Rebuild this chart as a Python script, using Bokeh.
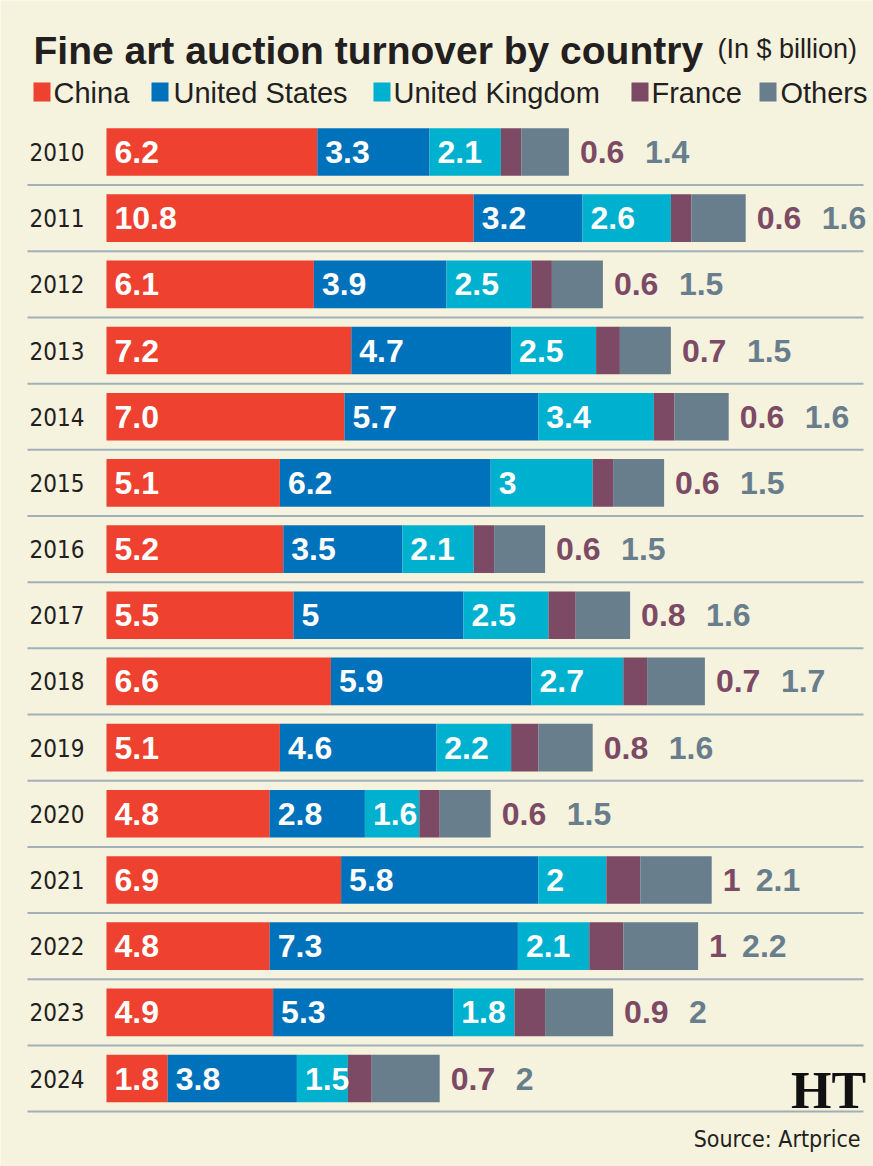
from bokeh.plotting import figure
from bokeh.models import Range1d, ColumnDataSource, Label
from bokeh.embed import file_html
from bokeh.resources import INLINE
from bokeh.core.properties import value
import numpy as np

# ---- data: fine art auction turnover, $ billion ----
years = ["2010", "2011", "2012", "2013", "2014", "2015", "2016", "2017",
         "2018", "2019", "2020", "2021", "2022", "2023", "2024"]
china = [6.2, 10.8, 6.1, 7.2, 7.0, 5.1, 5.2, 5.5, 6.6, 5.1, 4.8, 6.9, 4.8, 4.9, 1.8]
united_states = [3.3, 3.2, 3.9, 4.7, 5.7, 6.2, 3.5, 5, 5.9, 4.6, 2.8, 5.8, 7.3, 5.3, 3.8]
united_kingdom = [2.1, 2.6, 2.5, 2.5, 3.4, 3, 2.1, 2.5, 2.7, 2.2, 1.6, 2, 2.1, 1.8, 1.5]
france = [0.6, 0.6, 0.6, 0.7, 0.6, 0.6, 0.6, 0.8, 0.7, 0.8, 0.6, 1, 1, 0.9, 0.7]
others = [1.4, 1.6, 1.5, 1.5, 1.6, 1.5, 1.5, 1.6, 1.7, 1.6, 1.5, 2.1, 2.2, 2, 2]
series_names = ["China", "United States", "United Kingdom", "France", "Others"]

# ---- style ----
W, H = 873, 1166
BG = "#f5f2de"
INK = "#231f20"
GRID = "#9fb0b8"
COLORS = ["#ee4130", "#0072bb", "#00b0cf", "#7c4a64", "#687e8c"]
SANS = "Liberation Sans"
NARROW = "'DejaVu Sans Condensed', 'Liberation Sans', sans-serif"

# pixel layout of the plotting frame
X0_PX = 106          # where zero sits
PX_PER_UNIT = 34     # pixels per $ billion
ROW0_PX = 151.5      # centre of the first row
ROW_PX = 66.18       # row pitch
BAR_H = 0.72         # bar thickness, in rows


def px_x(px):
    return (px - X0_PX) / PX_PER_UNIT


def px_y(py):
    return (py - ROW0_PX) / ROW_PX


p = figure(
    width=W, height=H,
    x_range=Range1d(px_x(0), px_x(W)),
    y_range=Range1d(px_y(H), px_y(0)),
    output_backend="svg", toolbar_location=None,
    x_axis_location=None, y_axis_location=None,
    min_border=0, outline_line_color=None,
    background_fill_color=BG, border_fill_color=BG,
)
p.grid.visible = False

rows = np.arange(len(years))
keys = ["china", "us", "uk", "france", "others"]
cn = np.array(china, dtype=float)
us = np.array(united_states, dtype=float)
uk = np.array(united_kingdom, dtype=float)
fr = np.array(france, dtype=float)
ot = np.array(others, dtype=float)
total = cn + us + uk + fr + ot

src = ColumnDataSource(dict(row=rows, china=cn, us=us, uk=uk, france=fr, others=ot))

# row separators
p.segment(x0=px_x(27), x1=px_x(863), y0=rows + 0.5, y1=rows + 0.5,
          line_color=GRID, line_width=2)

# stacked bars
p.hbar_stack(keys, y="row", height=BAR_H, fill_color=COLORS, line_color=None, source=src)

# year labels
p.text(x=0, y=rows, text=years, x_offset=-22, text_align="right", text_baseline="middle",
       text_font=value(NARROW), text_font_size="24px", text_color=INK)

# values printed inside the first three segments
lefts = [np.zeros_like(cn), cn, cn + us]
for vals, left in zip([china, united_states, united_kingdom], lefts):
    p.text(x=left, y=rows, text=[str(v) for v in vals], x_offset=8,
           text_align="left", text_baseline="middle",
           text_font=value(SANS), text_font_style="bold", text_font_size="32px",
           text_color="white")

# France and Others values printed after the bar
fr_txt = [str(v) for v in france]
ot_txt = [str(v) for v in others]
ot_offset = [76 if "." in s else 44 for s in fr_txt]
p.text(x=total, y=rows, text=fr_txt, x_offset=11, text_align="left", text_baseline="middle",
       text_font=value(SANS), text_font_style="bold", text_font_size="32px",
       text_color=COLORS[3])
p.text(x=total, y=rows, text=ot_txt, x_offset=ot_offset, text_align="left",
       text_baseline="middle", text_font=value(SANS), text_font_style="bold",
       text_font_size="32px", text_color=COLORS[4])

# legend row
sq_px = [33, 151, 373, 631, 759]
lab_px = [53, 173, 393, 651, 780]
p.rect(x=[px_x(s + 8.5) for s in sq_px], y=[px_y(91.5)] * 5, width=17, height=19,
       width_units="screen", height_units="screen", fill_color=COLORS, line_color=None)
p.text(x=[px_x(t) for t in lab_px], y=[px_y(92.5)] * 5, text=series_names,
       text_align="left", text_baseline="middle", text_font=value(SANS),
       text_font_size="29px", text_color=INK)

# heading
p.add_layout(Label(x=33, y=H - 50, x_units="screen", y_units="screen",
                   text="Fine art auction turnover by country", text_font=SANS,
                   text_font_style="bold", text_font_size="39px", text_color=INK,
                   text_baseline="alphabetic"))
p.add_layout(Label(x=717, y=H - 48, x_units="screen", y_units="screen",
                   text="(In $ billion)", text_font=SANS, text_font_size="27px",
                   text_color=INK, text_baseline="alphabetic"))

# footer
p.add_layout(Label(x=828, y=H - 1090, x_units="screen", y_units="screen", text="HT",
                   text_font="Liberation Serif", text_font_style="bold",
                   text_font_size="52px", text_color="#111111",
                   text_align="center", text_baseline="middle"))
p.add_layout(Label(x=860, y=H - 1138, x_units="screen", y_units="screen",
                   text="Source: Artprice", text_font=NARROW, text_font_size="23px",
                   text_color=INK, text_align="right", text_baseline="middle"))

open("out.html", "w").write(file_html(p, INLINE))
